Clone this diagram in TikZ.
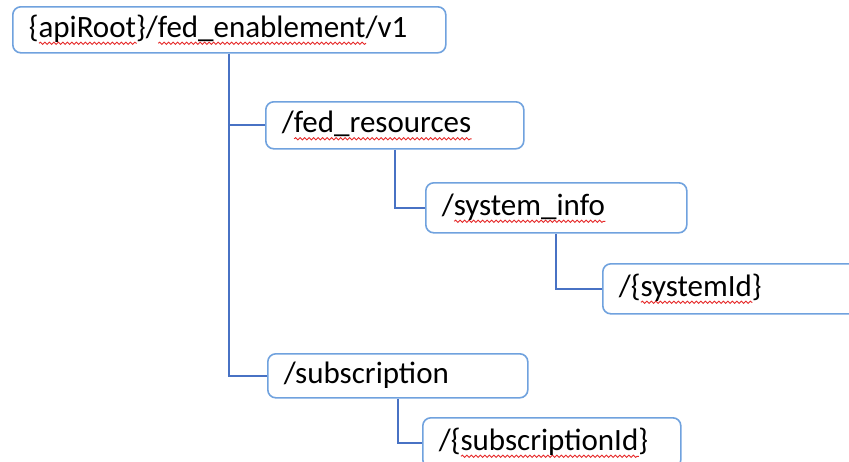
\documentclass[tikz,border=0pt]{standalone}
\usepackage{fontspec}
\setmainfont{Carlito}
\usepackage{tikz}
\usetikzlibrary{positioning, calc, decorations.pathmorphing}
\definecolor{BoxBlue}{RGB}{112,162,222}
\definecolor{LinkBlue}{RGB}{72,114,196}
\definecolor{SpellRed}{RGB}{230,40,40}
\newlength{\spellwd}
\newcommand{\spellwave}[1]{\settowidth{\spellwd}{#1}%
    \rlap{\raisebox{-6pt}{\tikz[x=1pt,y=1pt,baseline=0pt] \draw[SpellRed, line width=0.9pt, sharp corners,
        decoration={snake, amplitude=1.1pt, segment length=4.5pt}, decorate] (0,0) -- (\spellwd,0);}}#1}

\begin{document}
\begin{tikzpicture}[x=1pt,y=-1pt,
    box/.style={draw=BoxBlue, line width=1.6pt, fill=white, rounded corners=8pt,
        anchor=north west, align=left, inner xsep=16pt, inner ysep=0pt,
        font=\fontsize{31}{36}\selectfont, text height=22pt, text depth=7pt},
    link/.style={draw=LinkBlue, line width=1.8pt}]

    \useasboundingbox (0,0) rectangle (849,461);

    % boxes
    \node[box, minimum width=433pt, minimum height=46pt, text width=401pt] (root) at (12,6)
        {\{\spellwave{apiRoot}\}/\spellwave{fed\_enablement}/v1};
    \node[box, minimum width=258pt, minimum height=47pt, text width=226pt] (fedres) at (265,101)
        {/\spellwave{fed\_resources}};
    \node[box, minimum width=261pt, minimum height=50pt, text width=229pt] (sysinfo) at (425,182)
        {/\spellwave{system\_info}};
    \node[box, minimum width=300pt, minimum height=50pt, text width=268pt] (sysid) at (602,263)
        {/\{\spellwave{systemId}\}};
    \node[box, minimum width=260pt, minimum height=44pt, text width=228pt] (subscr) at (267,353)
        {/subscription};
    \node[box, minimum width=258pt, minimum height=50pt, text width=226pt] (subid) at (422,417)
        {/\{\spellwave{subscriptionId}\}};

    % connectors
    \draw[link] (root.south) |- (fedres.west);
    \draw[link] (root.south) |- (subscr.west);
    \draw[link] (fedres.south) |- (sysinfo.west);
    \draw[link] (sysinfo.south) |- (sysid.west);
    \draw[link] (subscr.south) |- (subid.west);

\end{tikzpicture}
\end{document}
